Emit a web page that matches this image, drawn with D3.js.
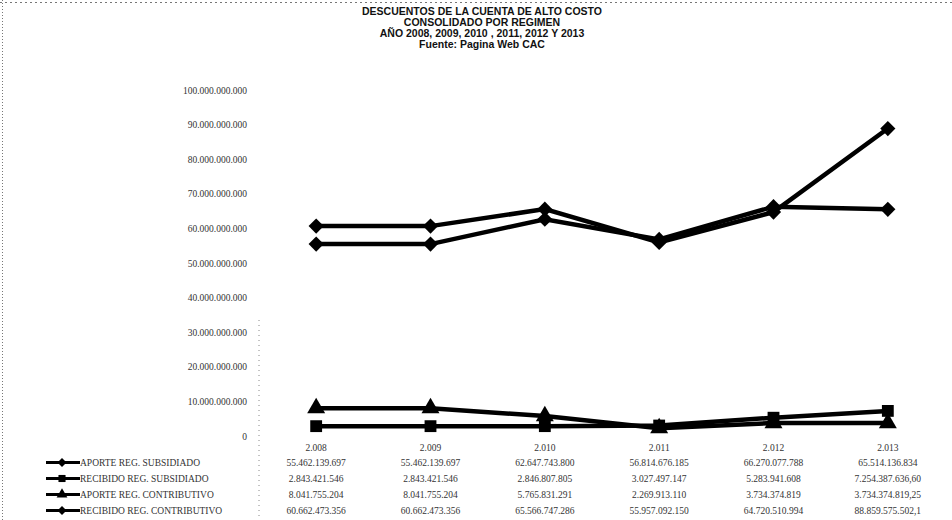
<!DOCTYPE html>
<html>
<head>
<meta charset="utf-8">
<script src="https://cdn.jsdelivr.net/npm/d3@7/dist/d3.min.js"></script>
<style>
  body { margin: 0; background: #fff; }
  #chart { width: 952px; height: 520px; }
  text { font-family: "Liberation Sans", Arial, sans-serif; fill: #222; }
</style>
</head>
<body>
<div id="chart"></div>
<script>
// Chart data
var titleLines = [
  "DESCUENTOS DE LA CUENTA DE ALTO COSTO",
  "CONSOLIDADO POR REGIMEN",
  "AÑO 2008, 2009, 2010 , 2011, 2012 Y 2013",
  "Fuente: Pagina Web CAC"
];
var years = [2008, 2009, 2010, 2011, 2012, 2013];
var seriesNames = [
  "APORTE REG. SUBSIDIADO",
  "RECIBIDO REG. SUBSIDIADO",
  "APORTE  REG. CONTRIBUTIVO",
  "RECIBIDO REG. CONTRIBUTIVO"
];
var aporteSubsidiado = [55462139697, 55462139697, 62647743800, 56814676185, 66270077788, 65514136834];
var recibidoSubsidiado = [2843421546, 2843421546, 2846807805, 3027497147, 5283941608, 7254387636.60];
var aporteContributivo = [8041755204, 8041755204, 5765831291, 2269913110, 3734374819, 3734374819.25];
var recibidoContributivo = [60662473356, 60662473356, 65566747286, 55957092150, 64720510994, 88859575502.1];
// decimals shown in the 2013 column of the table
var lastDecimals = [0, 2, 2, 1];
var yTicks = [0, 10e9, 20e9, 30e9, 40e9, 50e9, 60e9, 70e9, 80e9, 90e9, 100e9];

var allSeries = [aporteSubsidiado, recibidoSubsidiado, aporteContributivo, recibidoContributivo];
var markers = ["diamond", "square", "triangle", "diamond"];

var es = d3.formatLocale({decimal: ",", thousands: ".", grouping: [3], currency: ["$", ""]});
var fmtInt = es.format(",.0f");

var chart = d3.select("#chart").append("svg")
    .attr("width", 952)
    .attr("height", 520);

// scan borders (dotted)
chart.append("line")
    .attr("x1", 0).attr("x2", 952).attr("y1", 2.5).attr("y2", 2.5)
    .attr("stroke", "#777").attr("stroke-dasharray", "2,3");
chart.append("line")
    .attr("x1", 2.5).attr("x2", 2.5).attr("y1", 0).attr("y2", 520)
    .attr("stroke", "#777").attr("stroke-dasharray", "1,2");

// Title
chart.append("g").selectAll("text")
    .data(titleLines)
  .enter().append("text")
    .attr("x", 482)
    .attr("y", function(d, i) { return 15 + i * 11; })
    .attr("text-anchor", "middle")
    .style("font-size", "10.5px")
    .style("font-weight", "bold")
    .style("fill", "#111")
    .text(function(d) { return d; });

// Scales
var x = d3.scaleBand().domain(years).range([259, 945]);
var y = d3.scaleLinear().domain([0, 100e9]).range([436, 90]);

// Y axis
var yAxis = d3.axisLeft(y)
    .tickValues(yTicks)
    .tickSize(0)
    .tickPadding(12)
    .tickFormat(function(d) { return fmtInt(d); });

var gy = chart.append("g")
    .attr("transform", "translate(259,0)")
    .call(yAxis);
gy.select(".domain").remove();
gy.selectAll("text")
    .style("font-size", "9.5px")
    .style("font-family", "Liberation Serif, serif")
    .style("fill", "#333");

// faint dotted axis line visible in the scan
chart.append("line")
    .attr("x1", 259).attr("x2", 259).attr("y1", 320).attr("y2", 520)
    .attr("stroke", "#888").attr("stroke-dasharray", "1,4");

// X axis (category labels)
var xAxis = d3.axisBottom(x)
    .tickSize(0)
    .tickPadding(6)
    .tickFormat(function(d) { return fmtInt(d); });

var gx = chart.append("g")
    .attr("transform", "translate(0,438)")
    .call(xAxis);
gx.select(".domain").remove();
gx.selectAll("text")
    .style("font-size", "9.5px")
    .style("font-family", "Liberation Serif, serif")
    .style("fill", "#333");

function markerPath(type) {
  if (type === "square") return d3.symbol().type(d3.symbolSquare).size(140)();
  if (type === "triangle") return d3.symbol().type(d3.symbolTriangle).size(140)();
  return d3.symbol().type(d3.symbolSquare).size(115)();
}
function markerRotate(type) { return type === "diamond" ? " rotate(45)" : ""; }

var line = d3.line()
    .x(function(d, i) { return x(years[i]) + x.bandwidth() / 2; })
    .y(function(d) { return y(d); });

// Lines and markers
var seriesG = chart.append("g").selectAll("g")
    .data(allSeries)
  .enter().append("g");

seriesG.append("path")
    .attr("d", function(d) { return line(d); })
    .attr("fill", "none")
    .attr("stroke", "#000")
    .attr("stroke-width", 4.5);

seriesG.each(function(s, si) {
  d3.select(this).selectAll("path.mk")
      .data(s)
    .enter().append("path")
      .attr("class", "mk")
      .attr("d", markerPath(markers[si]))
      .attr("fill", "#000")
      .attr("transform", function(d, i) {
        return "translate(" + (x(years[i]) + x.bandwidth() / 2) + "," + y(d) + ")" + markerRotate(markers[si]);
      });
});

// Data table
var rowY = [466, 482, 498, 514];
var table = chart.append("g");

allSeries.forEach(function(s, si) {
  var ry = rowY[si];
  // legend key
  table.append("line")
      .attr("x1", 46).attr("x2", 80).attr("y1", ry - 3.5).attr("y2", ry - 3.5)
      .attr("stroke", "#000").attr("stroke-width", 3);
  table.append("path")
      .attr("d", markerPath(markers[si]))
      .attr("fill", "#000")
      .attr("transform", "translate(62," + (ry - 3.5) + ") scale(0.6)" + markerRotate(markers[si]));
  table.append("text")
      .attr("x", 80)
      .attr("y", ry)
      .style("font-size", "9.5px")
      .style("font-family", "Liberation Serif, serif")
      .style("fill", "#333")
      .text(seriesNames[si]);

  table.selectAll("text.v" + si)
      .data(s)
    .enter().append("text")
      .attr("class", "v" + si)
      .attr("x", function(d, i) { return x(years[i]) + x.bandwidth() / 2; })
      .attr("y", ry)
      .attr("text-anchor", "middle")
      .style("font-size", "9.5px")
      .style("font-family", "Liberation Serif, serif")
      .style("fill", "#333")
      .text(function(d, i) {
        if (i === years.length - 1 && lastDecimals[si] > 0) {
          return es.format(",." + lastDecimals[si] + "f")(d);
        }
        return fmtInt(d);
      });
});
</script>
</body>
</html>
